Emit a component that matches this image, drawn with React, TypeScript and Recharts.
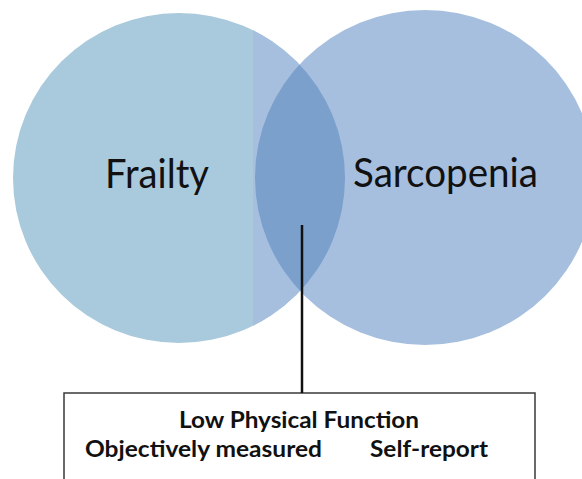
import React from 'react';
import * as Recharts from 'recharts';
import { ScatterChart, Scatter, XAxis, YAxis, ReferenceArea } from 'recharts';

// ---- data ----
const setNames = ['Frailty', 'Sarcopenia'];
const setCenterX = [179, 425];
const setCenterY = [178, 177.5];
const setRadiusX = [166, 170];
const setRadiusY = [165, 167.5];
const frailtyShadeSplitX = 253;
const connectorPoints = [
  { x: 302, y: 225 },
  { x: 302, y: 393 },
];
const boxBounds = { x1: 64, x2: 535, y1: 393, y2: 490 };
const boxTitle = 'Low Physical Function';
const measureTypes = ['Objectively measured', 'Self-report'];

// ---- layout / style ----
const W = 582;
const H = 479;
const X_DOMAIN: [number, number] = [0, W];
const Y_DOMAIN: [number, number] = [0, H];
const COLOR_FRAILTY = '#a9cadc';
const COLOR_SARCO = '#a7bfdf';
const COLOR_OVERLAP = '#7ba0cc';
const FONT = 'Lato, "Open Sans", "DejaVu Sans", sans-serif';
const labelDx = [-22, 20.5];
const labelBaseDy = [10, 9.5];
const labelWidths = [104, 185];

const sets = setNames.map((name, i) => ({
  id: i,
  name,
  x: setCenterX[i],
  y: setCenterY[i],
  rx: setRadiusX[i],
  ry: setRadiusY[i],
}));

function usePlot() {
  const hook = (Recharts as any).usePlotArea;
  const plot = hook ? hook() : null;
  return plot || { x: 0, y: 0, width: W, height: H };
}

function useScales() {
  const plot = usePlot();
  const kx = plot.width / (X_DOMAIN[1] - X_DOMAIN[0]);
  const ky = plot.height / (Y_DOMAIN[1] - Y_DOMAIN[0]);
  return {
    kx,
    ky,
    px: (v: number) => plot.x + (v - X_DOMAIN[0]) * kx,
    py: (v: number) => plot.y + (v - Y_DOMAIN[0]) * ky,
  };
}

const VennShape = (props: any) => {
  const { cx, cy, payload } = props;
  const { kx, ky, px, py } = useScales();
  const rx = payload.rx * kx;
  const ry = payload.ry * ky;
  const i = payload.id;
  const labelX = cx + labelDx[i] * kx;
  const labelY = cy + labelBaseDy[i] * ky;
  const label = (
    <text
      x={labelX}
      y={labelY}
      textAnchor="middle"
      fontFamily={FONT}
      fontSize={41}
      fill="#111"
      textLength={labelWidths[i] * kx}
      lengthAdjust="spacingAndGlyphs"
    >
      {payload.name}
    </text>
  );
  if (i === 0) {
    const sx = px(frailtyShadeSplitX);
    return (
      <g>
        <defs>
          <clipPath id="frailty-split">
            <rect x={sx} y={0} width={W * 2} height={H * 2} />
          </clipPath>
        </defs>
        <ellipse cx={cx} cy={cy} rx={rx} ry={ry} fill={COLOR_FRAILTY} />
        <ellipse cx={cx} cy={cy} rx={rx} ry={ry} fill={COLOR_SARCO} clipPath="url(#frailty-split)" />
        {label}
      </g>
    );
  }
  const other = sets[0];
  return (
    <g>
      <defs>
        <clipPath id="frailty-clip">
          <ellipse cx={px(other.x)} cy={py(other.y)} rx={other.rx * kx} ry={other.ry * ky} />
        </clipPath>
      </defs>
      <ellipse cx={cx} cy={cy} rx={rx} ry={ry} fill={COLOR_SARCO} />
      <ellipse cx={cx} cy={cy} rx={rx} ry={ry} fill={COLOR_OVERLAP} clipPath="url(#frailty-clip)" />
      {label}
    </g>
  );
};

const ConnectorShape = (props: any) => {
  const { cx, cy, index } = props;
  const { px, py } = useScales();
  if (index !== 0) return <g />;
  const end = connectorPoints[connectorPoints.length - 1];
  return <line x1={cx} y1={cy} x2={px(end.x)} y2={py(end.y)} stroke="#111" strokeWidth={2.5} />;
};

const BoxLabel = (props: any) => {
  const vb = props.viewBox || { x: 0, y: 0, width: 0, height: 0 };
  const midX = vb.x + vb.width / 2;
  return (
    <g fontFamily={FONT} fontWeight="bold" fontSize={22} fill="#111">
      <text x={midX - 0.5} y={vb.y + 35} textAnchor="middle" textLength={240} lengthAdjust="spacingAndGlyphs">
        {boxTitle}
      </text>
      <text x={vb.x + 21} y={vb.y + 64} textAnchor="start" textLength={237} lengthAdjust="spacingAndGlyphs">
        {measureTypes[0]}
      </text>
      <text x={vb.x + 306} y={vb.y + 64} textAnchor="start" textLength={118} lengthAdjust="spacingAndGlyphs">
        {measureTypes[1]}
      </text>
    </g>
  );
};

export default function App() {
  return (
    <div style={{ position: 'absolute', left: 0, top: 0, width: W, height: H, background: '#fff' }}>
      <ScatterChart width={W} height={H} margin={{ top: 0, right: 0, bottom: 0, left: 0 }}>
        <XAxis type="number" dataKey="x" domain={X_DOMAIN} hide allowDataOverflow />
        <YAxis type="number" dataKey="y" domain={Y_DOMAIN} reversed hide allowDataOverflow />
        <ReferenceArea
          x1={boxBounds.x1}
          x2={boxBounds.x2}
          y1={boxBounds.y1}
          y2={boxBounds.y2}
          ifOverflow="visible"
          fill="#ffffff"
          fillOpacity={1}
          stroke="#3a3a3a"
          strokeWidth={1.5}
          label={<BoxLabel />}
        />
        <Scatter data={[sets[0]]} shape={<VennShape />} isAnimationActive={false} />
        <Scatter data={[sets[1]]} shape={<VennShape />} isAnimationActive={false} />
        <Scatter data={connectorPoints.slice(0, 1)} shape={<ConnectorShape />} isAnimationActive={false} />
      </ScatterChart>
    </div>
  );
}
